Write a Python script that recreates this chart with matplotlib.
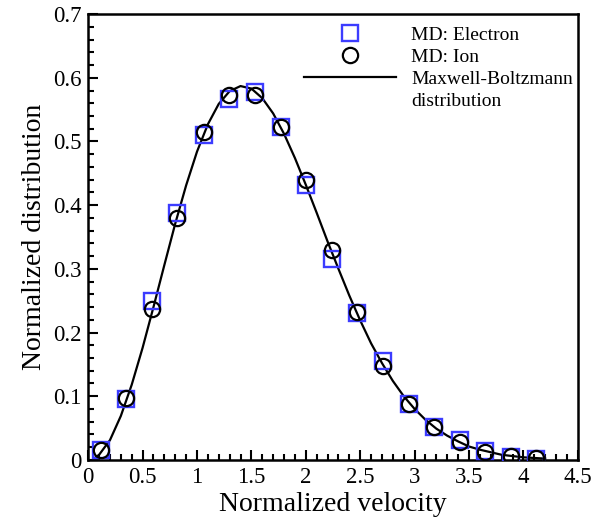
import matplotlib.pyplot as plt
from matplotlib.lines import Line2D
from matplotlib.ticker import MultipleLocator

plt.rcParams['font.family'] = ['Liberation Serif', 'DejaVu Serif']

# MD samples
v_md = [0.12, 0.35, 0.59, 0.82, 1.06, 1.29, 1.53, 1.77, 2.00,
        2.24, 2.47, 2.71, 2.95, 3.18, 3.42, 3.65, 3.89, 4.12]
electron = [0.015, 0.095, 0.250, 0.387, 0.510, 0.567, 0.578, 0.523, 0.432,
            0.316, 0.230, 0.155, 0.088, 0.052, 0.032, 0.014, 0.005, 0.002]
ion = [0.015, 0.097, 0.237, 0.380, 0.515, 0.573, 0.573, 0.523, 0.440,
       0.330, 0.232, 0.147, 0.087, 0.052, 0.028, 0.012, 0.006, 0.003]

# Maxwell-Boltzmann curve
v_mb = [0.06, 0.1, 0.2, 0.3, 0.4, 0.5, 0.6, 0.7, 0.8, 0.9, 1.0, 1.1, 1.2, 1.3,
        1.4, 1.5, 1.6, 1.7, 1.8, 1.9, 2.0, 2.1, 2.2, 2.3, 2.4, 2.5, 2.6, 2.7,
        2.8, 2.9, 3.0, 3.1, 3.2, 3.3, 3.4, 3.5, 3.6, 3.7, 3.8, 3.9, 4.0, 4.1, 4.2]
f_mb = [0.003, 0.008, 0.031, 0.069, 0.118, 0.176, 0.240, 0.306, 0.371, 0.431,
        0.484, 0.527, 0.559, 0.579, 0.587, 0.583, 0.568, 0.544, 0.512, 0.474,
        0.432, 0.388, 0.343, 0.300, 0.258, 0.219, 0.183, 0.152, 0.124, 0.100,
        0.080, 0.063, 0.049, 0.038, 0.029, 0.021, 0.016, 0.012, 0.008, 0.006,
        0.004, 0.003, 0.002]

xticks = [0, 0.5, 1, 1.5, 2, 2.5, 3, 3.5, 4, 4.5]
xlabels = ['0', '0.5', '1', '1.5', '2', '2.5', '3', '3.5', '4', '4.5']
yticks = [0, 0.1, 0.2, 0.3, 0.4, 0.5, 0.6, 0.7]
ylabels = ['0', '0.1', '0.2', '0.3', '0.4', '0.5', '0.6', '0.7']

fig = plt.figure(figsize=(6, 5.22), dpi=100)
ax = fig.add_axes([0.147, 0.119, 0.816, 0.854])

blue = '#3c3cff'
ax.plot(v_md, electron, 's', ms=12, mfc='none', mec=blue, mew=1.7, zorder=3)
ax.plot(v_md, ion, 'o', ms=11, mfc='none', mec='black', mew=1.6, zorder=4)
ax.plot(v_mb, f_mb, '-', color='black', lw=1.6, zorder=2)

ax.set_xlim(0, 4.5)
ax.set_ylim(0, 0.7)
ax.set_xticks(xticks)
ax.set_xticklabels(xlabels)
ax.set_yticks(yticks)
ax.set_yticklabels(ylabels)
ax.xaxis.set_minor_locator(MultipleLocator(0.1))
ax.yaxis.set_minor_locator(MultipleLocator(0.02))

ax.tick_params(which='both', direction='in', top=False, right=False,
               labelsize=16.5, width=1.5)
ax.tick_params(which='major', length=7.5, pad=5)
ax.tick_params(which='minor', length=4.5)
for s in ax.spines.values():
    s.set_linewidth(1.8)

ax.set_xlabel('Normalized velocity', fontsize=20, labelpad=3)
ax.set_ylabel('Normalized distribution', fontsize=20, labelpad=4)

# legend: the curve label wraps, handle sits on its first line
handles = [
    Line2D([], [], ls='none', marker='s', ms=12, mfc='none', mec=blue, mew=1.7),
    Line2D([], [], ls='none', marker='o', ms=11, mfc='none', mec='black', mew=1.6),
    Line2D([], [], color='black', lw=1.6),
    Line2D([], [], ls='none'),
]
labels = ['MD: Electron', 'MD: Ion', 'Maxwell-Boltzmann', 'distribution']
ax.legend(handles, labels, loc='upper left', bbox_to_anchor=(0.441, 0.972),
          frameon=False, fontsize=14, numpoints=1, handlelength=4.7,
          handletextpad=0.8, labelspacing=0.22, borderpad=0, borderaxespad=0)

fig.savefig('out.png', dpi=100)
